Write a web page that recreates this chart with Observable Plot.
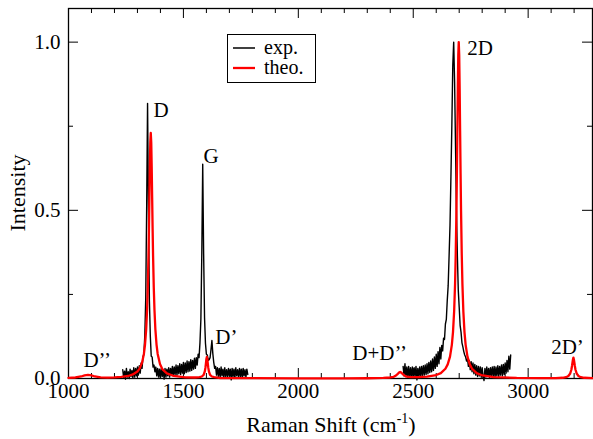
<!DOCTYPE html>
<html><head><meta charset="utf-8">
<script src="https://cdn.jsdelivr.net/npm/d3@7"></script>
<script src="https://cdn.jsdelivr.net/npm/@observablehq/plot@0.6"></script>
<style>
html,body{margin:0;padding:0;background:#fff;}
#chart{position:relative;width:593px;height:439px;}
</style></head><body><div id="chart"></div>
<script>
// ---- experimental spectrum (two measured windows, sampled every 4 cm^-1) ----
const expStep = 4;
const expStart1 = 1236;
const expY1 = [
  0.026, 0.002, 0.022, -0.002, 0.030, 0.004, 0.020, 0.000, 0.028, 0.006, // 1236
  0.024, 0.002, 0.032, 0.004, 0.030, 0.008, 0.034, 0.010, 0.038, 0.016,  // 1276
  0.046, 0.030, 0.064, 0.072, 0.128, 0.236, 0.500, 0.818, 0.500, 0.232,  // 1316
  0.126, 0.066, 0.064, 0.034, 0.040, 0.020, 0.034, 0.008, 0.030, 0.004,  // 1356
  0.028, 0.002, 0.030, 0.006, 0.026, -0.002, 0.030, 0.004, 0.028, 0.008, // 1396
  0.032, 0.004, 0.030, 0.010, 0.036, 0.008, 0.034, 0.012, 0.040, 0.010,  // 1436
  0.038, 0.014, 0.044, 0.012, 0.042, 0.016, 0.048, 0.014, 0.046, 0.018,  // 1476
  0.052, 0.020, 0.050, 0.022, 0.056, 0.024, 0.054, 0.028, 0.060, 0.030,  // 1516
  0.062, 0.040, 0.072, 0.062, 0.106, 0.176, 0.370, 0.637, 0.370, 0.180,  // 1556
  0.104, 0.072, 0.070, 0.054, 0.056, 0.062, 0.086, 0.113, 0.074, 0.048,  // 1596
  0.030, 0.036, 0.010, 0.032, 0.006, 0.030, 0.004, 0.034, 0.008, 0.028,  // 1636
  0.002, 0.032, 0.006, 0.026, 0.004, 0.030, 0.008, 0.028, -0.004, 0.030, // 1676
  0.006, 0.028, 0.002, 0.032, 0.008, 0.026, 0.004, 0.030, 0.006, 0.028,  // 1716
  0.002, 0.030, 0.008, 0.026, 0.004, 0.028, 0.012                        // 1756
];
const expStart2 = 2456;
const expY2 = [
  0.036, 0.008, 0.044, 0.006, 0.034, 0.004, 0.036, 0.002, 0.032, 0.006,  // 2456
  0.034, 0.002, 0.032, 0.008, 0.036, -0.004, 0.030, 0.004, 0.034, 0.006, // 2496
  0.036, 0.008, 0.038, 0.010, 0.040, 0.012, 0.044, 0.014, 0.048, 0.018,  // 2536
  0.052, 0.020, 0.058, 0.024, 0.064, 0.030, 0.072, 0.036, 0.080, 0.044,  // 2576
  0.092, 0.058, 0.098, 0.082, 0.120, 0.116, 0.162, 0.176, 0.232, 0.276,  // 2616
  0.364, 0.456, 0.600, 0.752, 0.930, 1.000, 0.880, 0.690, 0.500, 0.366,  // 2656
  0.262, 0.212, 0.158, 0.138, 0.106, 0.094, 0.080, 0.070, 0.064, 0.052,  // 2696
  0.058, 0.036, 0.054, 0.026, 0.050, 0.020, 0.046, 0.014, 0.042, 0.010,  // 2736
  0.038, 0.006, 0.036, 0.008, 0.034, 0.004, 0.032, 0.006, -0.006, 0.030, // 2776
  0.004, 0.034, 0.006, 0.030, 0.002, 0.032, 0.008, 0.034, 0.006, 0.036,  // 2816
  0.004, 0.034, 0.008, 0.038, 0.006, 0.036, 0.010, 0.040, 0.008, 0.042,  // 2856
  0.012, 0.046, 0.016, 0.054, 0.020, 0.066, 0.028, 0.070                 // 2896
];

// ---- theoretical spectrum ----
const theoX = [1000,1030,1055,1070,1085,1100,1115,1140,1170,1200,
  1230,1260,1280,1300,1310,1320,1328,1333,1338,1342,
  1345,1348,1350,1352,1354,1356,1358,1360,1362,1364,
  1366,1368,1371,1374,1378,1383,1388,1398,1408,1428,
  1458,1508,1550,1570,1580,1588,1593,1596,1598,1600,
  1602,1604,1606,1608,1611,1616,1624,1634,1660,1700,
  1800,2000,2200,2300,2370,2400,2415,2425,2433,2438,
  2443,2448,2453,2461,2471,2490,2520,2560,2600,2620,
  2640,2650,2660,2668,2673,2678,2682,2685,2688,2690,
  2692,2694,2696,2698,2700,2702,2704,2706,2708,2711,
  2714,2718,2723,2728,2736,2746,2756,2776,2796,2850,
  2950,3050,3120,3150,3165,3175,3183,3188,3191,3193,
  3195,3197,3199,3201,3203,3206,3211,3219,3229,3244,
  3280];
const theoY = [0.002,0.003,0.006,0.009,0.011,0.009,0.006,0.0035,0.0025,0.0035,
  0.005,0.0075,0.012,0.021,0.030,0.047,0.073,0.101,0.146,0.205,
  0.271,0.365,0.445,0.537,0.629,0.702,0.73,0.702,0.629,0.537,
  0.445,0.365,0.271,0.205,0.146,0.101,0.073,0.043,0.028,0.015,
  0.0075,0.0035,0.003,0.004,0.006,0.011,0.021,0.033,0.045,0.058,
  0.064,0.058,0.045,0.033,0.021,0.011,0.006,0.004,0.0015,0.001,
  0.001,0.0005,0.0005,0.0008,0.0016,0.003,0.005,0.009,0.014,0.0175,
  0.0195,0.0175,0.014,0.009,0.0055,0.004,0.004,0.0056,0.0103,0.016,
  0.029,0.042,0.065,0.1,0.138,0.2,0.281,0.372,0.5,0.61,
  0.735,0.862,0.962,1.0,0.962,0.862,0.735,0.61,0.5,0.372,
  0.281,0.2,0.138,0.1,0.065,0.042,0.029,0.016,0.0103,0.0043,
  0.0016,0.001,0.0013,0.0022,0.004,0.0075,0.015,0.026,0.038,0.048,
  0.0565,0.062,0.0565,0.048,0.038,0.026,0.015,0.0075,0.004,0.0022,
  0.001];

// ---- ticks & labels ----
const xMajorTicks = [1000, 1500, 2000, 2500, 3000];
const xMinorTicks = [1100,1200,1300,1400,1600,1700,1800,1900,2100,2200,2300,2400,2600,2700,2800,2900,3100,3200];
const yMajorTicks = [0, 0.5, 1.0];
const yMinorTicks = [0.25, 0.75];
const peakNames  = ["D\u2019\u2019", "D", "G", "D\u2019", "D+D\u2019\u2019", "2D", "2D\u2019"];
const peakShift  = [1065, 1370, 1587, 1639, 2235, 2735, 3100];
const peakLevel  = [0.033, 0.777, 0.640, 0.104, 0.054, 0.961, 0.074];
const legendNames  = ["exp.", "theo."];
const legendColors = ["black", "red"];

// ---- build tables ----
const expData = [];
expY1.forEach((v, i) => expData.push({seg: 1, shift: expStart1 + i * expStep, intensity: v}));
expY2.forEach((v, i) => expData.push({seg: 2, shift: expStart2 + i * expStep, intensity: v}));
const theoData = theoX.map((x, i) => ({shift: x, intensity: theoY[i]}));
const labels = peakNames.map((n, i) => ({name: n, shift: peakShift[i], level: peakLevel[i]}));

const W = 593, H = 439, mL = 68, mR = 1, mT = 8, mB = 61;
const plotW = W - mL - mR, plotH = H - mT - mB;
const major = 10, minor = 5;

const chart = Plot.plot({
  width: W, height: H,
  marginLeft: mL, marginRight: mR, marginTop: mT, marginBottom: mB,
  x: {domain: [1000, 3280]},
  y: {domain: [0, 1.1]},
  style: {fontFamily: "'Liberation Serif', 'Times New Roman', serif", fontSize: "21px", background: "white", color: "black", overflow: "visible"},
  marks: [
    Plot.frame({stroke: "black", strokeWidth: 1.3}),
    Plot.tickX(xMajorTicks, {x: d => d, insetTop: plotH - major, stroke: "black"}),
    Plot.tickX(xMajorTicks, {x: d => d, insetBottom: plotH - major, stroke: "black"}),
    Plot.tickX(xMinorTicks, {x: d => d, insetTop: plotH - minor, stroke: "black"}),
    Plot.tickX(xMinorTicks, {x: d => d, insetBottom: plotH - minor, stroke: "black"}),
    Plot.tickY(yMajorTicks, {y: d => d, insetRight: plotW - major, stroke: "black"}),
    Plot.tickY(yMajorTicks, {y: d => d, insetLeft: plotW - major, stroke: "black"}),
    Plot.tickY(yMinorTicks, {y: d => d, insetRight: plotW - minor, stroke: "black"}),
    Plot.tickY(yMinorTicks, {y: d => d, insetLeft: plotW - minor, stroke: "black"}),
    Plot.axisX({ticks: xMajorTicks, tickSize: 0, tickPadding: 5, tickFormat: d => String(d), label: null}),
    Plot.axisY({ticks: yMajorTicks, tickSize: 0, tickPadding: 8, tickFormat: d3.format(".1f"), label: null}),
    Plot.lineY(expData, {x: "shift", y: "intensity", z: "seg", stroke: "black", strokeWidth: 1.4}),
    Plot.lineY(theoData, {x: "shift", y: "intensity", stroke: "red", strokeWidth: 2.3}),
    Plot.text(labels, {x: "shift", y: "level", text: "name", textAnchor: "start", lineAnchor: "bottom", fontSize: 21})
  ]
});
document.getElementById("chart").appendChild(chart);

const svg = d3.select(chart);
// axis titles
svg.append("text")
  .attr("transform", "translate(25,193) rotate(-90)")
  .attr("text-anchor", "middle").attr("font-size", 22).attr("fill", "black")
  .text("Intensity");
const xt = svg.append("text").attr("x", 331).attr("y", 432)
  .attr("text-anchor", "middle").attr("font-size", 22).attr("fill", "black");
xt.append("tspan").text("Raman Shift (cm");
xt.append("tspan").attr("dy", -9).attr("font-size", 14).text("-1");
xt.append("tspan").attr("dy", 9).text(")");

// legend
const leg = svg.append("g");
leg.append("rect").attr("x", 227.5).attr("y", 34.5).attr("width", 88).attr("height", 48)
  .attr("fill", "white").attr("stroke", "black").attr("stroke-width", 1);
legendNames.forEach((n, i) => {
  const yy = 48 + i * 20;
  leg.append("line").attr("x1", 233).attr("x2", 255).attr("y1", yy).attr("y2", yy)
    .attr("stroke", legendColors[i]).attr("stroke-width", legendColors[i] === "red" ? 2.3 : 1.5);
  leg.append("text").attr("x", 264).attr("y", yy + 6).attr("text-anchor", "start")
    .attr("font-size", 20).attr("fill", "black").text(n);
});
</script>
</body></html>
